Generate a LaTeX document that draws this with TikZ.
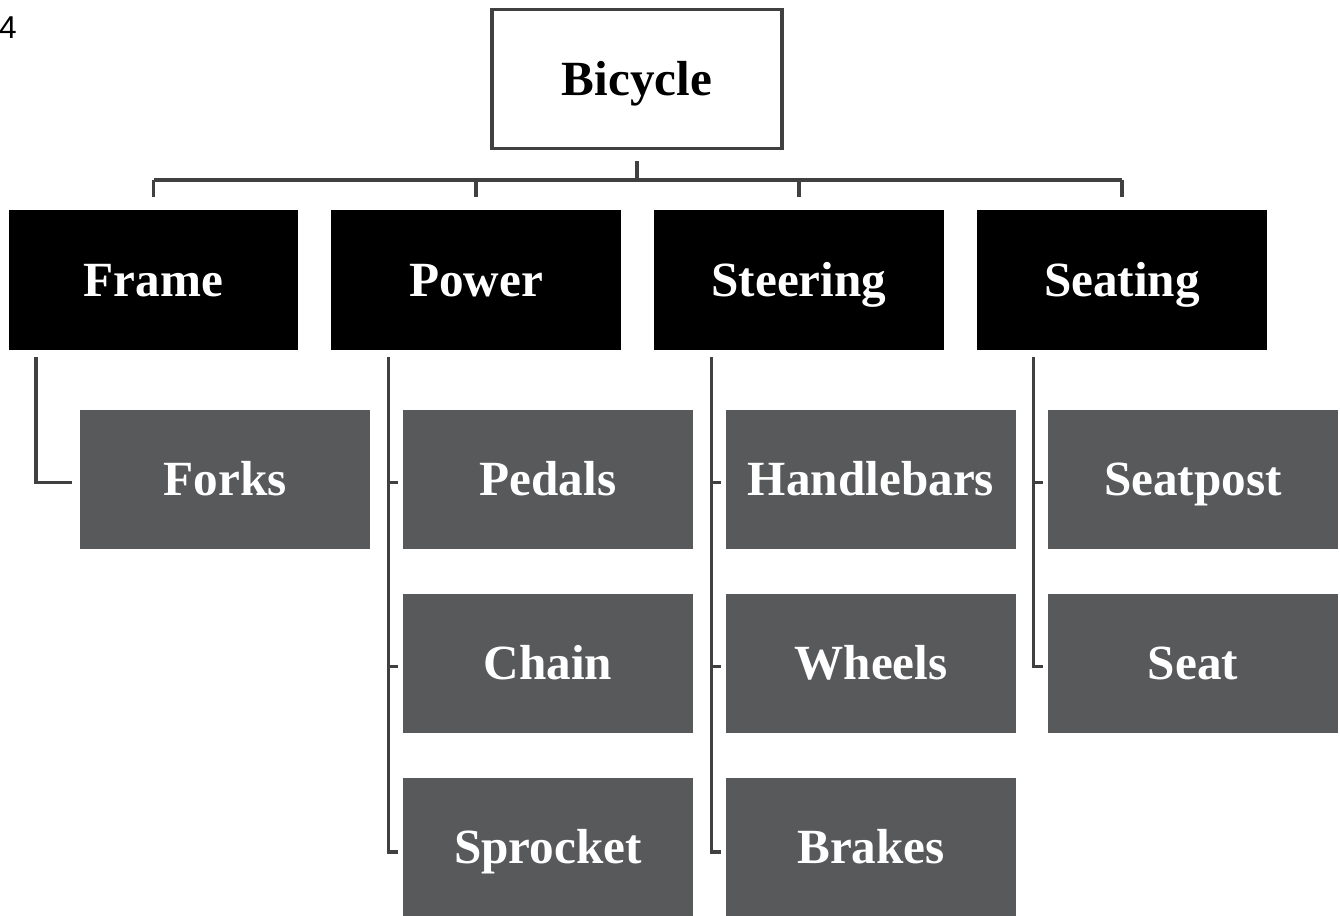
\documentclass[tikz,border=0pt]{standalone}
\usepackage{fontspec}
\setmainfont{Liberation Serif}
\newfontfamily\pagefont{Liberation Sans}
\usepackage{tikz}
\usetikzlibrary{calc}
\definecolor{partgrey}{HTML}{58595B}
\definecolor{linegrey}{HTML}{404040}

\begin{document}
\begin{tikzpicture}[x=0.02cm,y=0.02cm,
    box/.style={rectangle,inner sep=0pt,minimum width=5.8cm,minimum height=2.8cm,
      text height=18.5pt,text depth=0pt,
      font=\fontsize{28}{30}\selectfont\bfseries},
    rootbox/.style={box,draw=linegrey,line width=2pt,fill=white,text=black,
      minimum width=5.8cm,minimum height=2.78cm},
    groupbox/.style={box,fill=black,text=white},
    partbox/.style={box,fill=partgrey,text=white,minimum height=2.78cm},
    link/.style={draw=linegrey,line width=2pt}]
           \useasboundingbox (0,0) rectangle (1340,-916);
           \node[font=\pagefont\fontsize{18}{20}\selectfont] (page) at (8,-28) {4};
           % top level
           \node[rootbox] (bicycle) at (637,-79) {Bicycle};
           \node[groupbox] (frame) at (153.5,-280) {Frame};
           \node[groupbox] (power) at (476,-280) {Power};
           \node[groupbox] (steering) at (799,-280) {Steering};
           \node[groupbox] (seating) at (1122,-280) {Seating};
           % parts
           \node[partbox] (forks) at (225,-479.5) {Forks};
           \node[partbox] (pedals) at (548,-479.5) {Pedals};
           \node[partbox] (chain) at (548,-663.5) {Chain};
           \node[partbox] (sprocket) at (548,-847) {Sprocket};
           \node[partbox] (handlebars) at (871,-479.5) {Handlebars};
           \node[partbox] (wheels) at (871,-663.5) {Wheels};
           \node[partbox] (brakes) at (871,-847) {Brakes};
           \node[partbox] (seatpost) at (1193,-479.5) {Seatpost};
           \node[partbox] (seat) at (1193,-663.5) {Seat};
           % bicycle to groups
           \coordinate (bus) at ($(bicycle.south)+(0,-30)$);
           \draw[link] ($(bicycle.south)+(0,-11)$) -- (bus);
           \draw[link] (frame.north |- bus) -- (seating.north |- bus);
           \foreach \g in {frame,power,steering,seating}
             \draw[link] (\g.north |- bus) -- ($(\g.north)+(0,13)$);
           % groups to parts
           \coordinate (frametop) at ($(frame.south west)+(28,-7)$);
           \coordinate (powertop) at ($(power.south west)+(58,-7)$);
           \coordinate (steeringtop) at ($(steering.south west)+(58,-7)$);
           \coordinate (seatingtop) at ($(seating.south west)+(57,-7)$);
           \draw[link] (frametop) |- ($(forks.west)+(-8,-3)$);
           \draw[link] (powertop) |- ($(sprocket.west)+(-5,-5)$);
           \draw[link] (steeringtop) |- ($(brakes.west)+(-5,-5)$);
           \draw[link] (seatingtop) |- ($(seat.west)+(-5,-3)$);
           \foreach \p/\s in {pedals/power,chain/power,handlebars/steering,wheels/steering,seatpost/seating}
             \draw[link] ($(\s top |- \p.west)+(0,-3)$) -- ($(\p.west)+(-5,-3)$);
        \end{tikzpicture}
\end{document}
